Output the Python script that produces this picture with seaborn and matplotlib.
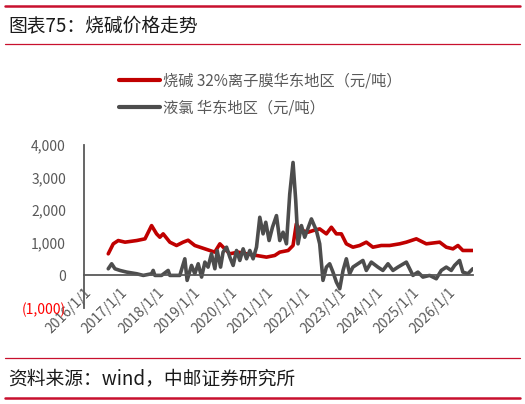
import pandas as pd
import matplotlib
matplotlib.use("Agg")
import matplotlib.pyplot as plt
import matplotlib.dates as mdates
import seaborn as sns

# 烧碱 32%离子膜华东地区（元/吨）
soda_dates = ["2016-08-31", "2016-10-20", "2016-12-09", "2017-02-15", "2017-06-12",
              "2017-09-03", "2017-11-08", "2017-12-28", "2018-01-30", "2018-03-04",
              "2018-05-10", "2018-07-16", "2018-09-20", "2018-11-09", "2019-01-15",
              "2019-03-07", "2019-06-14", "2019-08-03", "2019-09-23", "2019-11-12",
              "2020-01-01", "2020-03-24", "2020-06-16", "2020-09-24", "2021-01-02",
              "2021-03-26", "2021-05-15", "2021-08-07", "2021-09-25", "2021-10-28",
              "2021-12-01", "2022-02-22", "2022-04-14", "2022-06-19", "2022-08-25",
              "2022-10-14", "2022-12-03", "2023-01-22", "2023-03-13", "2023-05-18",
              "2023-07-24", "2023-09-29", "2023-12-04", "2024-02-26", "2024-05-20",
              "2024-08-28", "2024-11-03", "2025-02-11", "2025-05-22", "2025-10-03",
              "2025-12-08", "2026-02-13", "2026-04-04", "2026-05-23", "2026-08-31"]
soda_vals = [663, 969, 1070, 1020, 1070, 1122, 1529, 1275, 1172, 1275,
             1020, 918, 1020, 1080, 918, 866, 765, 714, 969, 815,
             663, 714, 663, 612, 561, 612, 714, 765, 918, 1580,
             1400, 1325, 1376, 1427, 1275, 1478, 1275, 1275, 969, 866,
             918, 1020, 866, 918, 918, 969, 1020, 1122, 969, 1020,
             866, 815, 918, 765, 765]

# 液氯 华东地区（元/吨）
chlor_dates = ["2016-08-31", "2016-10-04", "2016-11-06", "2016-12-26", "2017-03-03",
               "2017-06-12", "2017-08-17", "2017-11-08", "2017-11-24", "2017-12-11",
               "2018-02-16", "2018-04-23", "2018-05-10", "2018-08-18", "2018-10-07",
               "2018-10-30", "2018-12-13", "2019-01-15", "2019-02-18", "2019-03-24",
               "2019-04-26", "2019-05-28", "2019-07-01", "2019-08-04", "2019-08-27",
               "2019-09-30", "2019-10-25", "2019-11-29", "2020-01-01", "2020-02-03",
               "2020-03-08", "2020-04-10", "2020-05-13", "2020-06-16", "2020-07-19",
               "2020-08-21", "2020-09-24", "2020-10-27", "2020-11-29", "2020-12-26",
               "2021-01-28", "2021-03-03", "2021-04-12", "2021-05-15", "2021-06-17",
               "2021-07-21", "2021-08-23", "2021-09-25", "2021-10-22", "2021-11-14",
               "2021-12-18", "2022-01-20", "2022-03-28", "2022-05-17", "2022-06-19",
               "2022-07-22", "2022-08-25", "2022-09-27", "2022-10-30", "2022-12-03",
               "2023-01-06", "2023-02-08", "2023-03-13", "2023-04-15", "2023-05-18",
               "2023-07-07", "2023-08-26", "2023-09-29", "2023-11-18", "2024-01-23",
               "2024-03-13", "2024-05-03", "2024-06-22", "2024-08-11", "2024-11-03",
               "2025-01-08", "2025-02-27", "2025-04-18", "2025-06-24", "2025-08-30",
               "2025-10-19", "2025-12-08", "2026-01-27", "2026-03-01", "2026-04-20",
               "2026-05-23", "2026-07-12", "2026-08-31"]
chlor_vals = [204, 357, 204, 153, 102, 51, 0, 51, 153, 0,
              0, 153, 0, 0, 510, -153, 306, 51, 357, -51,
              408, 255, 663, 204, 765, 255, 714, 866, 560, 306,
              765, 459, 815, 510, 765, 510, 866, 1784, 1275, 1631,
              1070, 1478, 1835, 1070, 1325, 969, 2498, 3465, 2294, 969,
              1529, 1172, 1733, 1376, 969, -153, 255, 357, 102, -204,
              -408, 153, 510, 51, 255, 357, 459, 153, 408, 255,
              153, 357, 153, 255, 408, 0, 102, -51, 0, -102,
              153, 255, 153, 306, 459, 102, 51, 204]

series_names = ["烧碱 32%离子膜华东地区（元/吨）", "液氯 华东地区（元/吨）"]
y_ticks = [-1000, 0, 1000, 2000, 3000, 4000]
y_labels = ["(1,000)", "0", "1,000", "2,000", "3,000", "4,000"]

df = pd.concat([
    pd.DataFrame({"date": pd.to_datetime(soda_dates), "value": soda_vals, "series": series_names[0]}),
    pd.DataFrame({"date": pd.to_datetime(chlor_dates), "value": chlor_vals, "series": series_names[1]}),
])

sns.set_theme(style="white")
plt.rcParams["font.family"] = ["Noto Sans CJK SC", "DejaVu Sans"]

fig = plt.figure(figsize=(5.25, 4.04), dpi=100)
ax = fig.add_axes([0.16, 0.2376, 0.741, 0.4034])

sns.lineplot(data=df, x="date", y="value", hue="series", palette=["#C00000", "#4D4D4D"],
             linewidth=2.6, ax=ax, legend=True)

ax.set_xlim(pd.Timestamp("2016-01-01"), pd.Timestamp("2026-09-02"))
ax.set_ylim(-1000, 4000)
ax.set_xlabel("")
ax.set_ylabel("")

ax.spines["top"].set_visible(False)
ax.spines["right"].set_visible(False)
ax.spines["left"].set_color("#595959")
ax.spines["left"].set_linewidth(1.3)
ax.spines["bottom"].set_position(("data", 0))
ax.spines["bottom"].set_color("#595959")
ax.spines["bottom"].set_linewidth(1.3)

ax.set_yticks(y_ticks)
ax.set_yticklabels(y_labels)
for lab, v in zip(ax.get_yticklabels(), y_ticks):
    lab.set_color("#FF0000" if v < 0 else "#595959")
ax.tick_params(axis="y", length=0, pad=13, labelsize=10)

ax.xaxis.set_major_locator(mdates.YearLocator())
ax.xaxis.set_major_formatter(plt.FuncFormatter(lambda x, p: f"{mdates.num2date(x).year}/1/1"))
ax.tick_params(axis="x", direction="out", length=4, width=1.1, color="#595959",
               labelsize=10, labelcolor="#595959", pad=3)
for lab in ax.get_xticklabels():
    lab.set_rotation(45)
    lab.set_ha("right")
    lab.set_rotation_mode("anchor")

leg = ax.legend(loc="upper left", bbox_to_anchor=(0.215, 0.835), bbox_transform=fig.transFigure,
                frameon=False, fontsize=11, handlelength=2.7, handletextpad=0.15,
                labelspacing=0.65, borderaxespad=0)
for t in leg.get_texts():
    t.set_color("#595959")
for h in leg.get_lines():
    h.set_linewidth(3)

# header / footer decoration
fig.add_artist(plt.Line2D([0.01, 0.99], [1 - 6 / 404, 1 - 6 / 404], color="#C8102E", linewidth=1.8))
fig.add_artist(plt.Line2D([0.01, 0.99], [1 - 44 / 404, 1 - 44 / 404], color="#C8102E", linewidth=0.9))
fig.add_artist(plt.Line2D([0.01, 0.99], [1 - 358 / 404, 1 - 358 / 404], color="#C8102E", linewidth=0.9))
fig.add_artist(plt.Line2D([0.01, 0.99], [1 - 398 / 404, 1 - 398 / 404], color="#C8102E", linewidth=1.8))
fig.text(0.015, 1 - 26 / 404, "图表75：烧碱价格走势", fontsize=13.5, color="#1a1a1a", va="center")
fig.text(0.015, 1 - 379 / 404, "资料来源：wind，中邮证券研究所", fontsize=13.5, color="#1a1a1a", va="center")

fig.savefig("out.png", dpi=100)
